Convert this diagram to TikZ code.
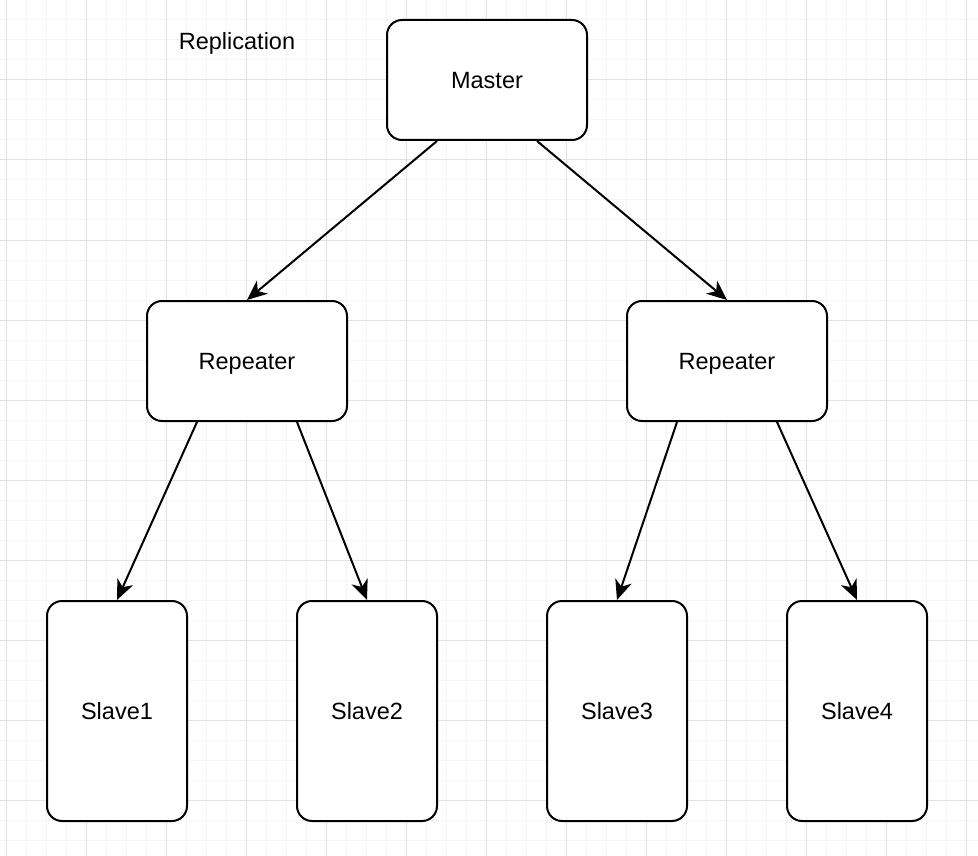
\documentclass[tikz,border=0pt]{standalone}
\usepackage{fontspec}
\setmainfont{Liberation Sans}
\usetikzlibrary{arrows.meta}
\tikzset{
  box/.style={draw,line width=2pt,rounded corners=15pt,fill=white,
    inner sep=0pt,text depth=0pt,font=\fontsize{23.5}{28}\selectfont},
  wide/.style={box,minimum width=200pt,minimum height=120pt},
  tall/.style={box,minimum width=140pt,minimum height=220pt},
  link/.style={line width=2pt,-{Stealth[length=20pt,width=17pt,inset=6pt]}}
}
\begin{document}
\begin{tikzpicture}[x=1pt,y=-1pt]
        \useasboundingbox (0,0) rectangle (978,856);
        %% grid
        \foreach \x in {6.7,26.7,...,978} \draw[black!4,line width=1pt] (\x,0) -- (\x,856);
        \foreach \y in {0,20,...,856} \draw[black!4,line width=1pt] (0,\y) -- (978,\y);
        \foreach \x in {6.7,86.7,...,978} \draw[black!11,line width=1pt] (\x,0) -- (\x,856);
        \foreach \y in {0,80,...,856} \draw[black!11,line width=1pt] (0,\y) -- (978,\y);
        %% title
        \node[font=\fontsize{23.5}{28}\selectfont] (title) at (237,43) {Replication};
        %% master and repeaters
        \node[wide] (master) at (487,80) {Master};
        \node[wide] (repA) at (247,361) {Repeater};
        \node[wide] (repB) at (727,361) {Repeater};
        \draw[link] ([xshift=-50pt]master.south) -- (repA.north);
        \draw[link] ([xshift=50pt]master.south) -- (repB.north);
        %% slaves
        \foreach \x/\n/\r/\s in {117/1/repA/-50,367/2/repA/50,617/3/repB/-50,857/4/repB/50} {
            \node[tall] (slave\n) at (\x,711) {Slave\n};
            \draw[link] ([xshift=\s pt]\r.south) -- (slave\n.north);
        }
\end{tikzpicture}
\end{document}
